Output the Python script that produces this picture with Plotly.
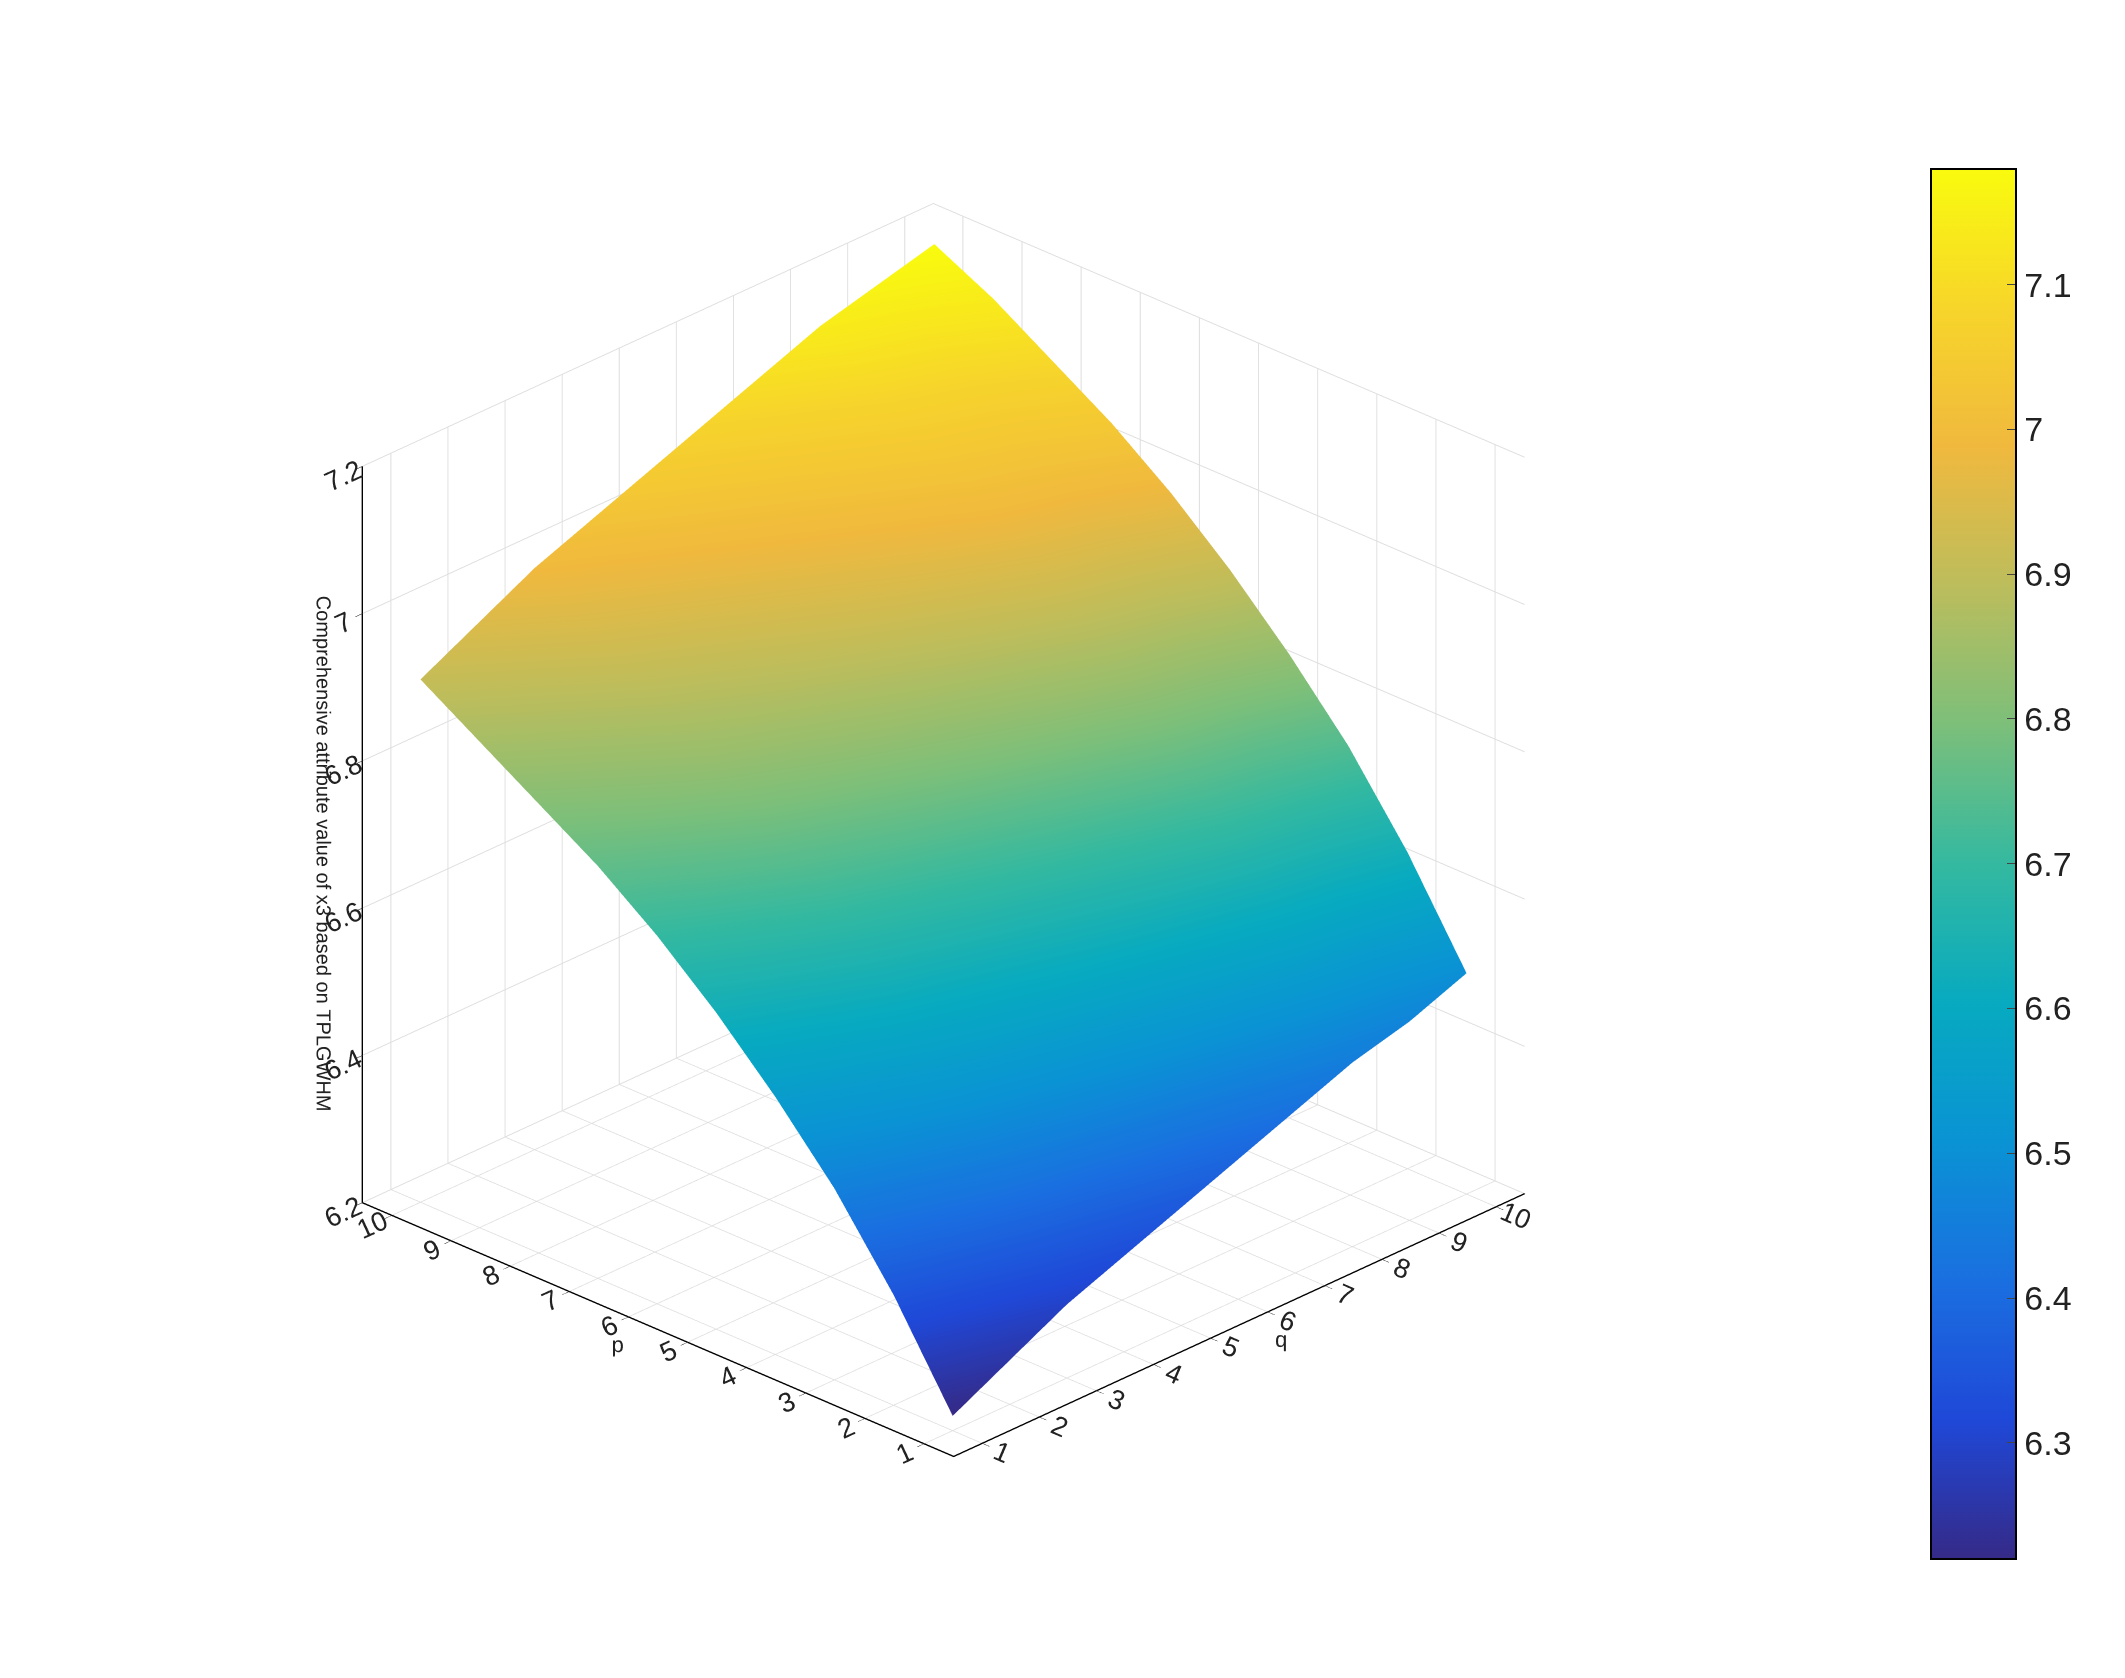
import plotly.graph_objects as go

q_vals = [1, 2, 3, 4, 5, 6, 7, 8, 9, 10]
p_vals = [1, 2, 3, 4, 5, 6, 7, 8, 9, 10]

# rows = p, columns = q
z_vals = [
    [6.22, 6.26, 6.30, 6.33, 6.36, 6.39, 6.42, 6.45, 6.47, 6.50],
    [6.35, 6.39, 6.43, 6.46, 6.49, 6.52, 6.55, 6.58, 6.60, 6.63],
    [6.46, 6.50, 6.54, 6.57, 6.60, 6.63, 6.66, 6.69, 6.71, 6.74],
    [6.55, 6.59, 6.63, 6.66, 6.69, 6.72, 6.75, 6.78, 6.80, 6.83],
    [6.63, 6.67, 6.71, 6.74, 6.77, 6.80, 6.83, 6.86, 6.88, 6.91],
    [6.70, 6.74, 6.78, 6.81, 6.84, 6.87, 6.90, 6.93, 6.95, 6.98],
    [6.76, 6.80, 6.84, 6.87, 6.90, 6.93, 6.96, 6.99, 7.01, 7.04],
    [6.81, 6.85, 6.89, 6.92, 6.95, 6.98, 7.01, 7.04, 7.06, 7.09],
    [6.86, 6.90, 6.94, 6.97, 7.00, 7.03, 7.06, 7.09, 7.11, 7.14],
    [6.91, 6.95, 6.99, 7.02, 7.05, 7.08, 7.11, 7.14, 7.16, 7.18],
]

parula = [
    [0.0, '#352a87'], [0.1, '#1f48d8'], [0.2, '#1a6fe0'], [0.3, '#0a93d4'],
    [0.4, '#07aac0'], [0.5, '#34b9a0'], [0.6, '#7cbf7a'], [0.7, '#bcbd5c'],
    [0.8, '#f0b93e'], [0.9, '#f7d52a'], [1.0, '#f9fb0e'],
]

fig = go.Figure(go.Surface(
    x=q_vals, y=p_vals, z=z_vals,
    colorscale=parula, showscale=True,
    lighting=dict(ambient=1.0, diffuse=0, specular=0, fresnel=0),
    colorbar=dict(
        tickvals=[6.3, 6.4, 6.5, 6.6, 6.7, 6.8, 6.9, 7, 7.1],
        ticktext=['6.3', '6.4', '6.5', '6.6', '6.7', '6.8', '6.9', '7', '7.1'],
        len=0.84, thickness=85, x=0.9, y=0.49,
        outlinewidth=2, outlinecolor='black', ticks='inside', ticklen=10,
        tickfont=dict(size=34, color='#222'),
    ),
))

axis_common = dict(
    showbackground=False, gridcolor='#dddddd', gridwidth=2,
    showline=True, linecolor='black', linewidth=3,
    ticks='outside', ticklen=10, tickcolor='black',
    tickfont=dict(size=18, color='#222'),
    zeroline=False,
)

fig.update_layout(
    width=2125, height=1678,
    paper_bgcolor='white',
    font=dict(family='Liberation Sans, Arial', color='#222'),
    margin=dict(l=0, r=0, t=0, b=0),
    scene=dict(
        domain=dict(x=[0.02, 0.86], y=[0.02, 1.0]),
        xaxis=dict(axis_common, title=dict(text='q', font=dict(size=22)),
                   range=[0.5, 10.5], tickvals=q_vals),
        yaxis=dict(axis_common, title=dict(text='p', font=dict(size=22)),
                   range=[0.5, 10.5], tickvals=p_vals),
        zaxis=dict(axis_common,
                   title=dict(text='Comprehensive attribute value of x3 based on TPLGWHM',
                              font=dict(size=20)),
                   range=[6.2, 7.2], tickvals=[6.2, 6.4, 6.6, 6.8, 7, 7.2]),
        aspectmode='manual', aspectratio=dict(x=1, y=1, z=1.0),
        camera=dict(eye=dict(x=-1.45, y=-1.4, z=1.0),
                    center=dict(x=0, y=0, z=0),
                    projection=dict(type='orthographic')),
    ),
)

fig.write_html("out.html")
